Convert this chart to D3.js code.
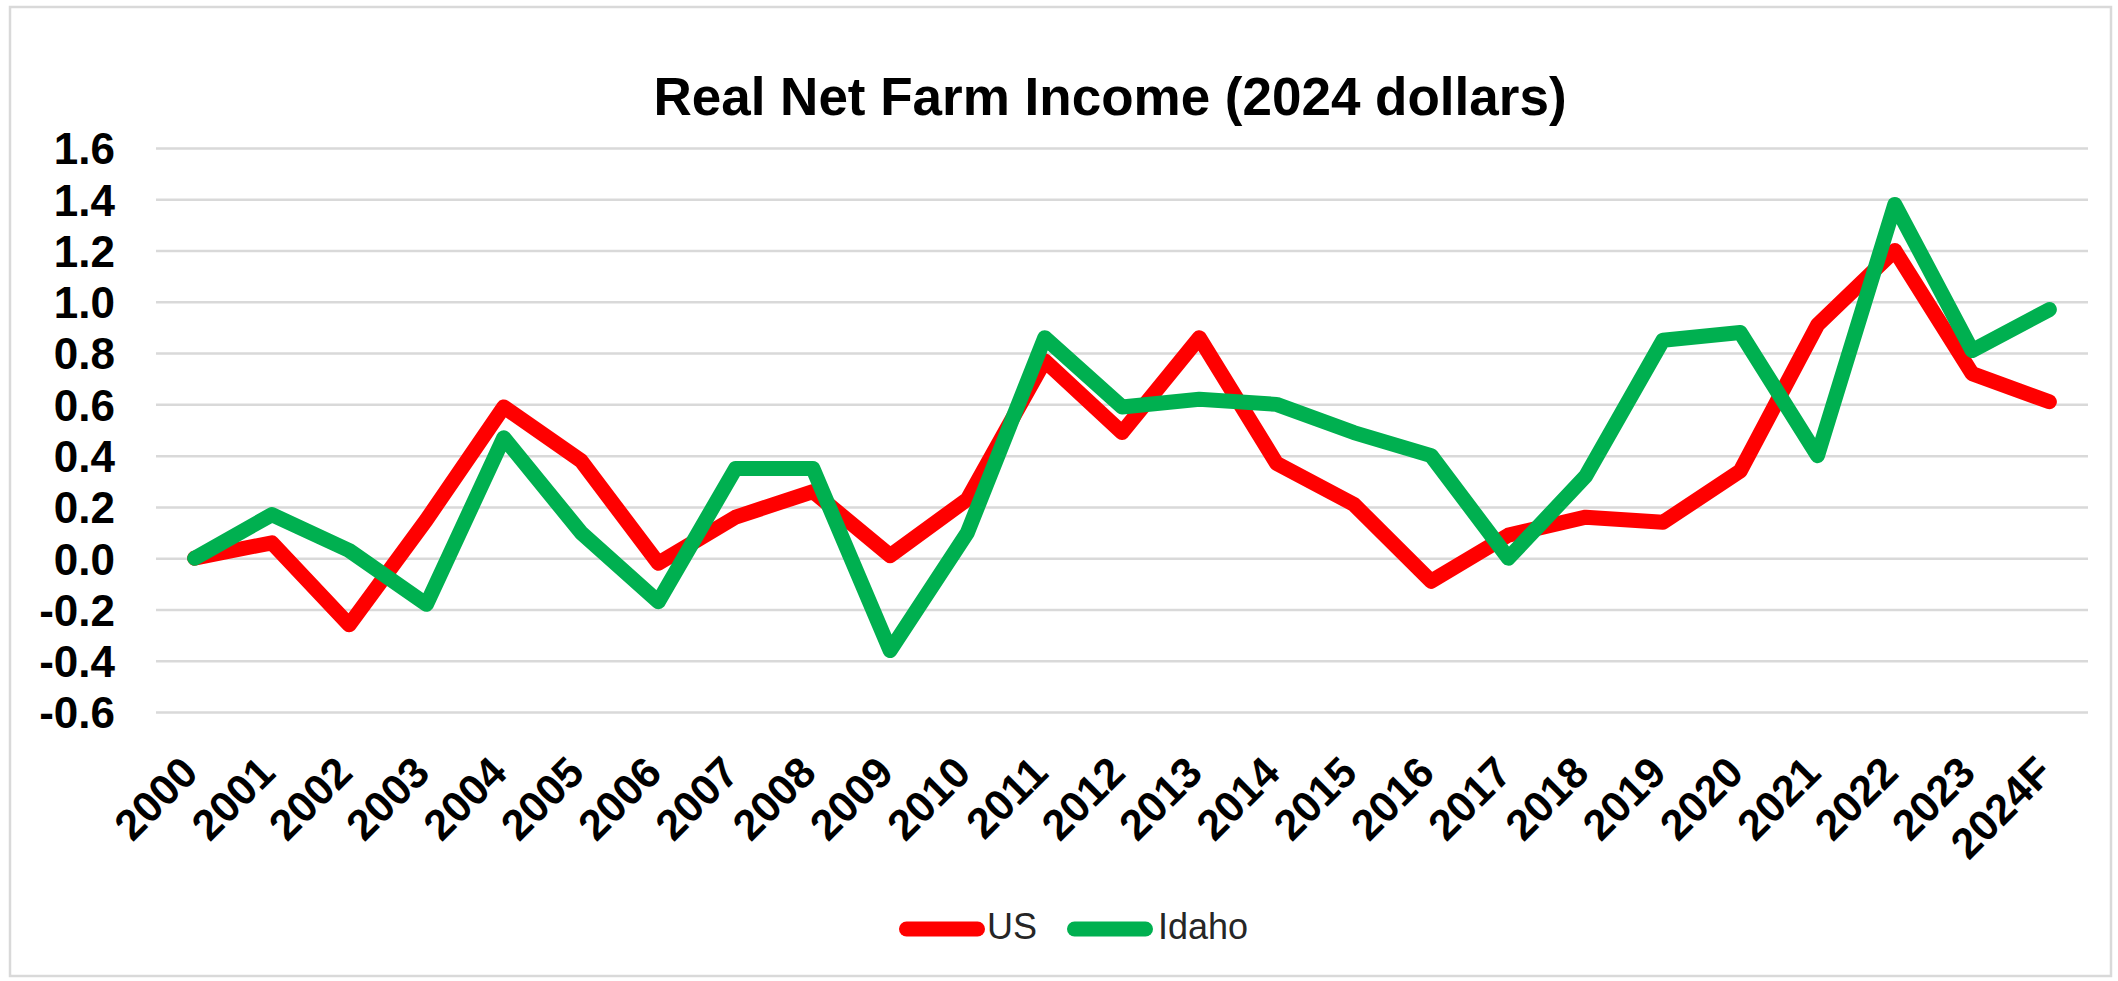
<!DOCTYPE html>
<html>
<head>
<meta charset="utf-8">
<script src="https://cdn.jsdelivr.net/npm/d3@7/dist/d3.min.js"></script>
<style>
  html, body { margin: 0; padding: 0; background: #fff; }
  svg { display: block; }
  text { font-family: "Liberation Sans", Arial, Helvetica, sans-serif; }
</style>
</head>
<body>
<svg id="chart" width="2118" height="981"></svg>
<script>
const years = ["2000","2001","2002","2003","2004","2005","2006","2007","2008","2009","2010","2011","2012","2013","2014","2015","2016","2017","2018","2019","2020","2021","2022","2023","2024F"];
const usValues = [0.00,0.06,-0.26,0.15,0.59,0.38,-0.02,0.16,0.26,0.01,0.23,0.77,0.49,0.86,0.37,0.21,-0.09,0.09,0.16,0.14,0.34,0.91,1.20,0.72,0.61];
const idahoValues = [0.00,0.17,0.03,-0.18,0.47,0.10,-0.17,0.35,0.35,-0.36,0.10,0.86,0.59,0.62,0.60,0.49,0.40,0.00,0.32,0.85,0.88,0.40,1.38,0.81,0.97];
const yTicks = [-0.6,-0.4,-0.2,0.0,0.2,0.4,0.6,0.8,1.0,1.2,1.4,1.6];
const seriesNames = ["US","Idaho"];
const seriesColors = ["#FF0000","#00B050"];
const title = "Real Net Farm Income (2024 dollars)";

const svg = d3.select("#chart");
const W = 2118, H = 981;
const plot = {left: 156, right: 2088, top: 148, bottom: 712};

svg.append("rect").attr("width", W).attr("height", H).attr("fill", "#fff");
svg.append("rect")
  .attr("x", 10).attr("y", 7).attr("width", 2101).attr("height", 969)
  .attr("fill", "none").attr("stroke", "#d9d9d9").attr("stroke-width", 2.5);

const x = d3.scalePoint().domain(years).range([plot.left, plot.right]).padding(0.5);
const y = d3.scaleLinear().domain([-0.6, 1.6]).range([plot.bottom, plot.top]);
const loc = d3.formatLocale({decimal: ".", thousands: ",", grouping: [3], currency: ["$", ""], minus: "-"});
const fmt = loc.format(".1f");

// gridlines
svg.append("g")
  .attr("transform", `translate(${plot.left},0)`)
  .call(d3.axisRight(y).tickValues(yTicks).tickSize(plot.right - plot.left).tickFormat(""))
  .call(g => g.select(".domain").remove())
  .call(g => g.selectAll("line").attr("stroke", "#d9d9d9").attr("stroke-width", 2.5));

// y axis labels
svg.append("g")
  .attr("transform", `translate(${plot.left},0)`)
  .call(d3.axisLeft(y).tickValues(yTicks).tickSize(0).tickPadding(41).tickFormat(fmt))
  .call(g => g.select(".domain").remove())
  .call(g => g.selectAll("text")
    .attr("font-family", "'Liberation Sans', Arial, sans-serif")
    .attr("font-size", 44).attr("font-weight", "bold").attr("fill", "#000")
    .attr("dy", "0.36em"));

// x axis labels
svg.append("g")
  .attr("transform", `translate(0,${plot.bottom})`)
  .call(d3.axisBottom(x).tickSize(0))
  .call(g => g.select(".domain").remove())
  .call(g => g.selectAll("text")
    .attr("font-family", "'Liberation Sans', Arial, sans-serif")
    .attr("font-size", 43).attr("font-weight", "bold").attr("fill", "#000")
    .attr("x", null).attr("y", null).attr("dy", null)
    .attr("text-anchor", "end")
    .attr("transform", "translate(5,63) rotate(-45)"));

// lines
const line = d3.line().x((d, i) => x(years[i])).y(d => y(d));
[usValues, idahoValues].forEach((vals, k) => {
  svg.append("path")
    .datum(vals)
    .attr("d", line)
    .attr("fill", "none")
    .attr("stroke", seriesColors[k])
    .attr("stroke-width", 15)
    .attr("stroke-linejoin", "round")
    .attr("stroke-linecap", "round");
});

// title
svg.append("text")
  .attr("x", 1110).attr("y", 115)
  .attr("text-anchor", "middle")
  .attr("font-size", 53).attr("font-weight", "bold").attr("fill", "#000")
  .text(title);

// legend
const legendItems = [
  {lx: 906.5, tx: 987},
  {lx: 1074.5, tx: 1158}
];
legendItems.forEach((p, k) => {
  svg.append("line")
    .attr("x1", p.lx).attr("x2", p.lx + 71)
    .attr("y1", 929).attr("y2", 929)
    .attr("stroke", seriesColors[k]).attr("stroke-width", 15)
    .attr("stroke-linecap", "round");
  svg.append("text")
    .attr("x", p.tx).attr("y", 939)
    .attr("font-size", 36).attr("fill", "#262626")
    .text(seriesNames[k]);
});
</script>
</body>
</html>
